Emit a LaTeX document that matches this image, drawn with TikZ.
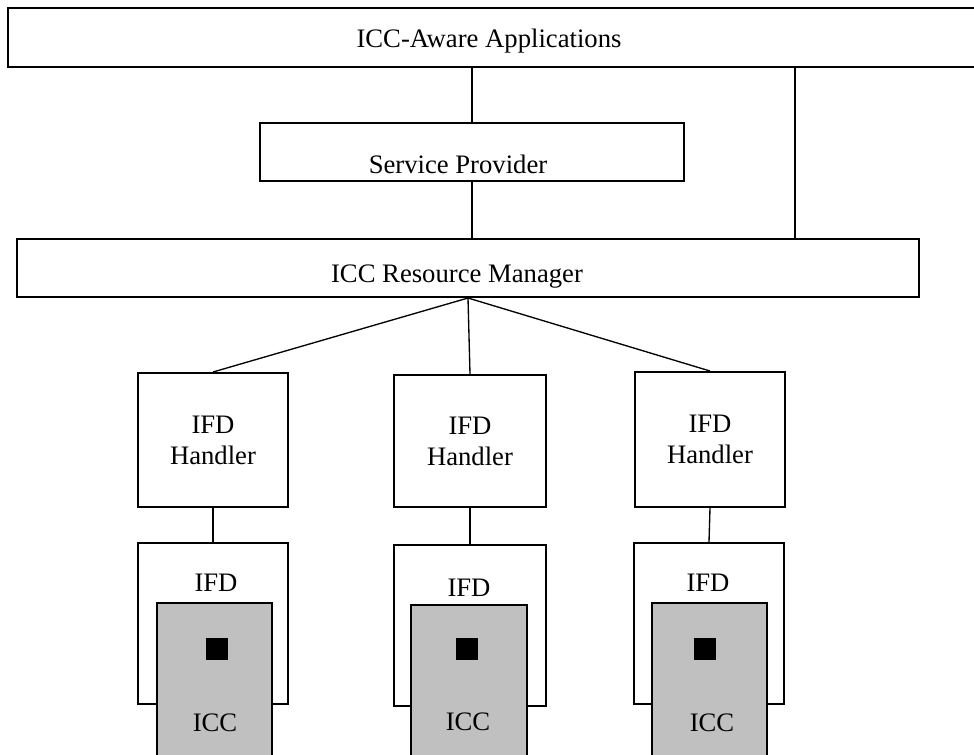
\documentclass[tikz,border=0pt]{standalone}
\usepackage{fontspec}
\setmainfont{Liberation Serif}
\definecolor{cardgray}{HTML}{C0C0C0}

\begin{document}
\begin{tikzpicture}[x=0.75pt, y=-0.75pt, font=\fontsize{20}{23.3}\selectfont, box/.style={rectangle, draw=black, line width=1.5pt, inner sep=0pt, align=center}, card/.style={rectangle, draw=black, line width=1.1pt, fill=cardgray, inner sep=0pt}, chip/.style={rectangle, fill=black, minimum size=16.5pt, inner sep=0pt}, txt/.style={anchor=base, inner sep=0pt}, link/.style={line width=1pt}]
\useasboundingbox (0,0) rectangle (974,754);
\clip (0,0) rectangle (974,754);
\node[box, minimum width=741pt, minimum height=44.25pt] (apps) at (502,37.5) {};
\node[txt] (appslabel) at (489,47) {ICC-Aware Applications};
\node[box, minimum width=318pt, minimum height=43.5pt] (sp) at (472,152) {};
\node[txt] (splabel) at (458,173) {Service Provider};
\node[box, minimum width=676.5pt, minimum height=43.5pt] (rm) at (468,268) {};
\node[txt] (rmlabel) at (457,282) {ICC Resource Manager};
\coordinate (tap) at (795,0);
\node[box, minimum width=112.5pt, minimum height=100.5pt] (h1) at (213,440) {IFD\\Handler};
\node[box, minimum width=114pt, minimum height=99pt] (h2) at (470,441) {IFD\\Handler};
\node[box, minimum width=112.5pt, minimum height=101.25pt] (h3) at (710,439.5) {IFD\\Handler};
\node[box, minimum width=112.5pt, minimum height=120.75pt] (r1) at (213,623.5) {};
\node[box, minimum width=114pt, minimum height=120.75pt] (r2) at (470,625.5) {};
\node[box, minimum width=112.5pt, minimum height=120.75pt] (r3) at (709,623.5) {};
\node[txt] (r1label) at (216,591) {IFD};
\node[txt] (r2label) at (469,596) {IFD};
\node[txt] (r3label) at (708,591) {IFD};
\node[card, minimum width=86.25pt, minimum height=147.75pt] (c1) at (214.5,701.5) {};
\node[card, minimum width=87pt, minimum height=146.25pt] (c2) at (469,702.5) {};
\node[card, minimum width=86.25pt, minimum height=147.75pt] (c3) at (709.5,701.5) {};
\node[chip] (k1) at (216.5,648.5) {};
\node[chip] (k2) at (467,648.5) {};
\node[chip] (k3) at (705,648.5) {};
\node[txt] (c1label) at (215,731) {ICC};
\node[txt] (c2label) at (468,730) {ICC};
\node[txt] (c3label) at (712,731) {ICC};
\draw[link] (sp.north) -- (sp.north |- apps.south);
\draw[link] (sp.south) -- (sp.south |- rm.north);
\draw[link] (tap |- apps.south) -- (tap |- rm.north);
\draw[link] (rm.south) -- (h1.north);
\draw[link] (rm.south) -- (h2.north);
\draw[link] (rm.south) -- (h3.north);
\draw[link] (h1.south) -- (r1.north);
\draw[link] (h2.south) -- (r2.north);
\draw[link] (h3.south) -- (r3.north);
\end{tikzpicture}
\end{document}
